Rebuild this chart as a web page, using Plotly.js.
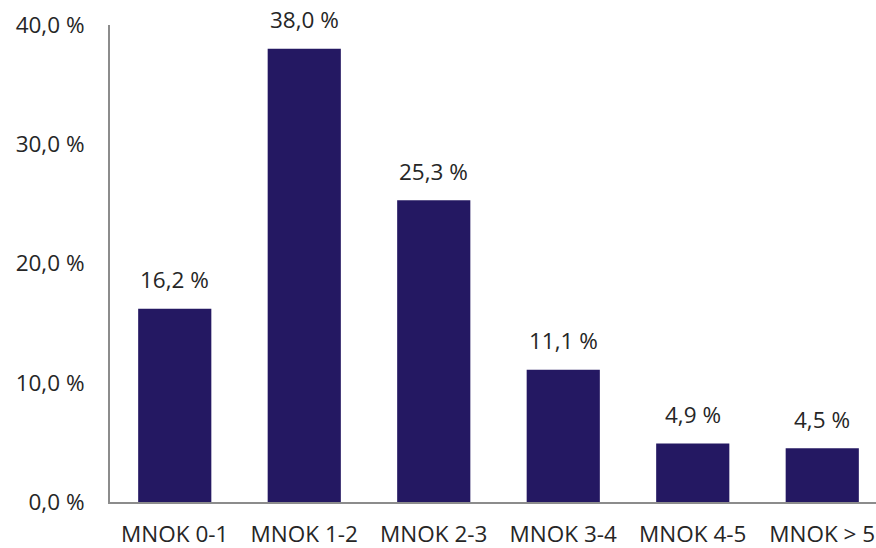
<!DOCTYPE html>
<html><head><meta charset="utf-8">
<script src="https://cdn.plot.ly/plotly-3.0.1.min.js"></script>
<style>html,body{margin:0;padding:0;background:#fff;}#chart{width:876px;height:548px;}</style>
</head><body><div id="chart"></div>
<script>
const categories = ["MNOK 0-1", "MNOK 1-2", "MNOK 2-3", "MNOK 3-4", "MNOK 4-5", "MNOK > 5"];
const shares = [16.2, 38.0, 25.3, 11.1, 4.9, 4.5];
const yTicks = [0, 10, 20, 30, 40];

const fmt = v => v.toFixed(1).replace('.', ',') + ' %';
const FONT = "Open Sans, sans-serif";

const trace = {
  type: 'bar', x: categories, y: shares,
  marker: {color: '#241862'}, width: 0.565, hoverinfo: 'none'
};
const annotations = categories.map((c, i) => ({
  x: c, y: shares[i], xref: 'x', yref: 'y', text: fmt(shares[i]),
  showarrow: false, yanchor: 'middle', yshift: 29,
  font: {family: FONT, size: 22.5, color: '#262626'}
}));
const layout = {
  width: 876, height: 548,
  margin: {l: 110, r: 0, t: 25, b: 46},
  paper_bgcolor: '#fff', plot_bgcolor: '#fff',
  showlegend: false,
  xaxis: {
    type: 'category', range: [-0.5, 5.415], showgrid: false,
    showline: true, linecolor: '#8c8c8c', linewidth: 2, ticks: '',
    ticklabelstandoff: 11,
    tickfont: {family: FONT, size: 22.5, color: '#262626'}, fixedrange: true
  },
  yaxis: {
    range: [0, 40], tickvals: yTicks, ticktext: yTicks.map(fmt),
    showgrid: false, zeroline: false, showline: true, linecolor: '#8c8c8c', linewidth: 2,
    ticks: '', ticklabelstandoff: 19,
    tickfont: {family: FONT, size: 22.5, color: '#262626'}, fixedrange: true
  },
  annotations: annotations
};
Plotly.newPlot('chart', [trace], layout, {displayModeBar: false, staticPlot: true});
</script></body></html>
